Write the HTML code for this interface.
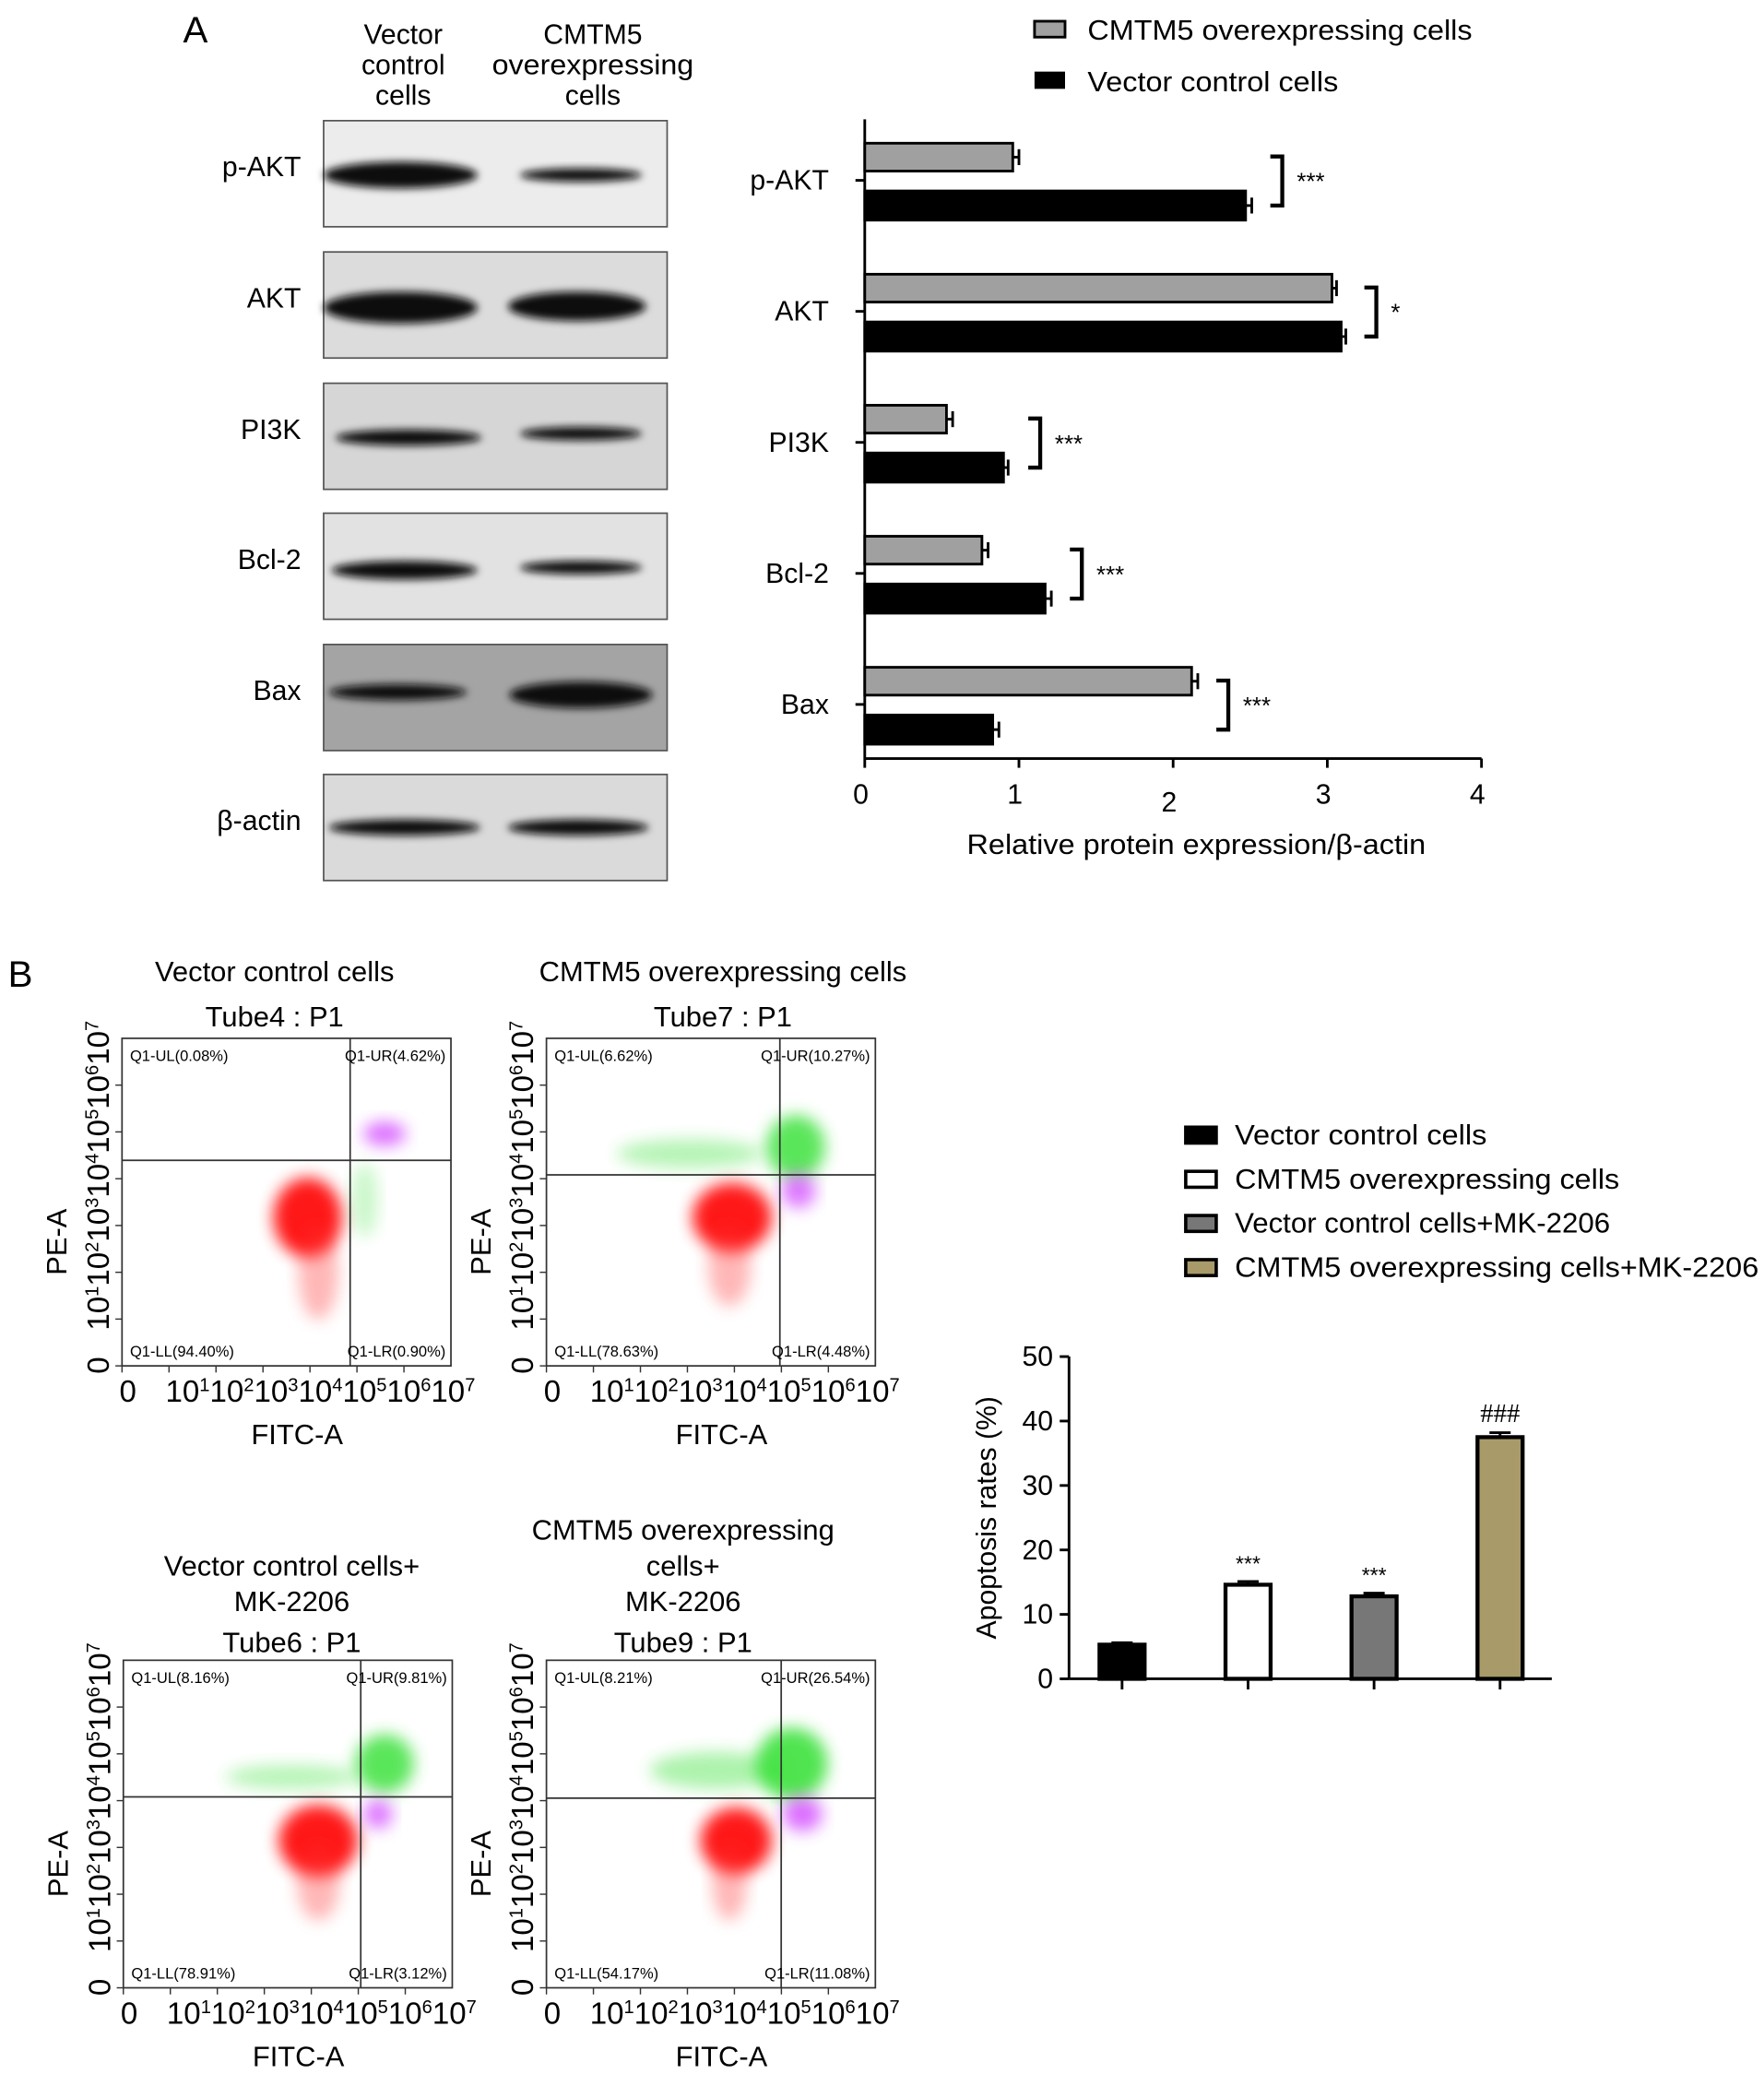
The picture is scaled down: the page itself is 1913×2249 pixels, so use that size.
<!DOCTYPE html>
<html><head><meta charset="utf-8"><style>
html,body{margin:0;padding:0;background:#fff}
svg{display:block;font-family:"Liberation Sans",sans-serif}
</style></head><body>
<svg id="fig" width="1913" height="2249" viewBox="0 0 1330 1564" preserveAspectRatio="none" xmlns="http://www.w3.org/2000/svg">
<defs>
<filter id="blur3" x="-20%" y="-50%" width="140%" height="200%"><feGaussianBlur stdDeviation="3"/></filter>
<filter id="blur6" x="-30%" y="-50%" width="160%" height="200%"><feGaussianBlur stdDeviation="6"/></filter>
</defs>
<text x="138" y="32" font-size="28">A</text>
<g font-size="21" text-anchor="middle">
<text x="304" y="33">Vector</text><text x="304" y="56">control</text><text x="304" y="79">cells</text>
<text x="447" y="33">CMTM5</text><text x="447" y="56" textLength="152" lengthAdjust="spacingAndGlyphs">overexpressing</text><text x="447" y="79">cells</text>
</g>
<g id="blots"></g>
<g id="barA"></g>
<text x="6" y="744" font-size="28">B</text>
<g id="flows"></g>
<g id="barB"></g>
</svg>
<script>
const NS='http://www.w3.org/2000/svg';
function mk(p,t,a,txt){const e=document.createElementNS(NS,t);for(const k in a)e.setAttribute(k,a[k]);if(txt!==undefined)e.textContent=txt;p.appendChild(e);return e;}

// ---------- Western blots ----------
const blotNames=['p-AKT','AKT','PI3K','Bcl-2','Bax','β-actin'];
const blotTops=[91,190,289,387,486,584];
const blotBg=['#ececec','#dcdcdc','#d6d6d6','#e2e2e2','#a4a4a4','#dadada'];
const bands=[[[302,132,58,10],[438,132,46,5]],[[302,232,58,12],[435,231,52,11]],[[308,330,55,6],[438,327,46,5]],[[305,430,55,7],[438,428,46,5]],[[300,522,52,6],[438,524,54,10]],[[305,624,57,6],[436,624,53,6]]];
const blots=document.getElementById('blots');
blotNames.forEach((n,i)=>{
  const g=mk(blots,'g',{});
  
  
  mk(g,'rect',{x:244,y:blotTops[i],width:259,height:80,fill:blotBg[i],stroke:'#555','stroke-width':1.2});
  bands[i].forEach(b=>mk(g,'ellipse',{cx:b[0],cy:b[1],rx:b[2],ry:b[3],fill:'#111',filter:'url(#blur3)'}));
  mk(g,'text',{x:227,y:blotTops[i]+42,'font-size':21,'text-anchor':'end'},n);
});

// ---------- Panel A bar chart ----------
const catsA=['p-AKT','AKT','PI3K','Bcl-2','Bax'];
const cmtmA=[0.96,3.03,0.53,0.76,2.12];
const vecA=[2.47,3.09,0.90,1.17,0.83];
const errCA=[0.04,0.03,0.04,0.04,0.04];
const errVA=[0.04,0.03,0.03,0.04,0.04];
const sigA=['***','*','***','***','***'];
const ticksA=[0,1,2,3,4];
const A={x0:652,x1:1117,max:4,yTop:90,yBot:572};
const xA=v=>A.x0+(A.x1-A.x0)*v/A.max;
const catY=i=>136+i*98.8;
const ga=document.getElementById('barA');
mk(ga,'line',{x1:A.x0,y1:A.yTop,x2:A.x0,y2:A.yBot,stroke:'#000','stroke-width':2});
mk(ga,'line',{x1:A.x0,y1:A.yBot,x2:A.x1,y2:A.yBot,stroke:'#000','stroke-width':2});
ticksA.forEach(t=>{
  mk(ga,'line',{x1:xA(t),y1:A.yBot,x2:xA(t),y2:A.yBot+7,stroke:'#000','stroke-width':2});
  const e=mk(ga,'text',{x:xA(t)-3,y:A.yBot+34+(t===2?6:0),'font-size':21,'text-anchor':'middle'},t);
  
  
});
const xt=mk(ga,'text',{x:902,y:644,'font-size':21,'text-anchor':'middle',textLength:346,lengthAdjust:'spacingAndGlyphs'},'Relative protein expression/β-actin');


catsA.forEach((c,i)=>{
  const cy=catY(i);
  mk(ga,'line',{x1:A.x0-7,y1:cy,x2:A.x0,y2:cy,stroke:'#000','stroke-width':2});
  const lt=mk(ga,'text',{x:A.x0-27,y:cy+7,'font-size':21,'text-anchor':'end'},c);
  
  
  const b1=mk(ga,'rect',{x:A.x0,y:cy-28,width:xA(cmtmA[i])-A.x0,height:21,fill:'#a0a0a0',stroke:'#000','stroke-width':2});
  
  
  const b2=mk(ga,'rect',{x:A.x0,y:cy+8,width:xA(vecA[i])-A.x0,height:22,fill:'#000',stroke:'#000','stroke-width':2});
  
  
  [[cmtmA[i],errCA[i],cy-17.5],[vecA[i],errVA[i],cy+19]].forEach(([v,e,y])=>{
    mk(ga,'line',{x1:xA(v),y1:y,x2:xA(v+e),y2:y,stroke:'#000','stroke-width':2});
    mk(ga,'line',{x1:xA(v+e),y1:y-6,x2:xA(v+e),y2:y+6,stroke:'#000','stroke-width':2});
  });
  const bx=xA(Math.max(cmtmA[i],vecA[i])+Math.max(errCA[i],errVA[i]))+14;
  mk(ga,'path',{d:`M${bx},${cy-18} H${bx+9} V${cy+19} H${bx}`,fill:'none',stroke:'#000','stroke-width':3});
  mk(ga,'text',{x:bx+20,y:cy+7,'font-size':18},sigA[i]);
});
const lg=mk(ga,'g',{});


mk(lg,'rect',{x:780,y:16,width:23,height:12,fill:'#a0a0a0',stroke:'#000','stroke-width':2});
mk(lg,'text',{x:820,y:30,'font-size':21,textLength:290,lengthAdjust:'spacingAndGlyphs'},'CMTM5 overexpressing cells');
mk(lg,'rect',{x:780,y:54,width:23,height:13,fill:'#000'});
mk(lg,'text',{x:820,y:69,'font-size':21,textLength:189,lengthAdjust:'spacingAndGlyphs'},'Vector control cells');

// ---------- Flow plots ----------
const flowDefs=[
 {x:92,y:783,vx:264,hy:875,q:['Q1-UL(0.08%)','Q1-UR(4.62%)','Q1-LL(94.40%)','Q1-LR(0.90%)'],
  titles:['Vector control cells','Tube4 : P1'],ty:[740,774],tc:207,
  clouds:[['#ff0000',232,918,26,30,0.9],['#ff3030',240,960,15,35,0.35],['#d040ff',290,855,16,9,0.75],['#30e030',275,905,10,28,0.25]]},
 {x:412,y:783,vx:588,hy:886,q:['Q1-UL(6.62%)','Q1-UR(10.27%)','Q1-LL(78.63%)','Q1-LR(4.48%)'],
  titles:['CMTM5 overexpressing cells','Tube7 : P1'],ty:[740,774],tc:545,
  clouds:[['#30e030',600,865,22,24,0.8],['#30e030',520,870,55,11,0.35],['#ff0000',552,918,30,26,0.9],['#ff3030',550,955,16,30,0.35],['#d040ff',602,898,13,13,0.7]]},
 {x:93,y:1252,vx:272,hy:1355,q:['Q1-UL(8.16%)','Q1-UR(9.81%)','Q1-LL(78.91%)','Q1-LR(3.12%)'],
  titles:['Vector control cells+','MK-2206','Tube6 : P1'],ty:[1188,1215,1246],tc:220,
  clouds:[['#30e030',290,1330,22,22,0.8],['#30e030',220,1340,50,9,0.35],['#ff0000',240,1388,30,27,0.9],['#ff3030',240,1420,16,28,0.35],['#d040ff',285,1368,11,11,0.7]]},
 {x:412,y:1252,vx:589,hy:1356,q:['Q1-UL(8.21%)','Q1-UR(26.54%)','Q1-LL(54.17%)','Q1-LR(11.08%)'],
  titles:['CMTM5 overexpressing','cells+','MK-2206','Tube9 : P1'],ty:[1161,1188,1215,1246],tc:515,
  clouds:[['#30e030',597,1330,27,27,0.85],['#30e030',540,1335,50,14,0.4],['#ff0000',555,1388,27,25,0.9],['#ff3030',550,1420,13,28,0.35],['#d040ff',605,1368,15,13,0.75]]}
];
const sup='<tspan dx="%D">10</tspan><tspan dy="-8" font-size="14">1</tspan><tspan dy="8">10</tspan><tspan dy="-8" font-size="14">2</tspan><tspan dy="8">10</tspan><tspan dy="-8" font-size="14">3</tspan><tspan dy="8">10</tspan><tspan dy="-8" font-size="14">4</tspan><tspan dy="8">10</tspan><tspan dy="-8" font-size="14">5</tspan><tspan dy="8">10</tspan><tspan dy="-8" font-size="14">6</tspan><tspan dy="8">10</tspan><tspan dy="-8" font-size="14">7</tspan>';
const fl=document.getElementById('flows');
flowDefs.forEach((f,k)=>{
  const g=mk(fl,'g',{});
  
  
  const W=248,H=247;
  f.titles.forEach((t,i)=>mk(g,'text',{x:f.tc,y:f.ty[i],'font-size':21.5,'text-anchor':'middle'},t));
  f.clouds.forEach(c=>mk(g,'ellipse',{cx:c[1],cy:c[2],rx:c[3],ry:c[4],fill:c[0],opacity:c[5],filter:'url(#blur6)'}));
  mk(g,'rect',{x:f.x,y:f.y,width:W,height:H,fill:'none',stroke:'#333','stroke-width':1.2});
  mk(g,'line',{x1:f.vx,y1:f.y,x2:f.vx,y2:f.y+H,stroke:'#333','stroke-width':1.2});
  mk(g,'line',{x1:f.x,y1:f.hy,x2:f.x+W,y2:f.hy,stroke:'#333','stroke-width':1.2});
  mk(g,'text',{x:f.x+6,y:f.y+17,'font-size':11.5},f.q[0]);
  mk(g,'text',{x:f.x+W-4,y:f.y+17,'font-size':11.5,'text-anchor':'end'},f.q[1]);
  mk(g,'text',{x:f.x+6,y:f.y+H-7,'font-size':11.5},f.q[2]);
  mk(g,'text',{x:f.x+W-4,y:f.y+H-7,'font-size':11.5,'text-anchor':'end'},f.q[3]);
  for(let d=0;d<7;d++){const tx=f.x+d*W/7;mk(g,'line',{x1:tx,y1:f.y+H,x2:tx,y2:f.y+H+5,stroke:'#333'});
    const ty=f.y+H-d*H/7;mk(g,'line',{x1:f.x-5,y1:ty,x2:f.x,y2:ty,stroke:'#333'});}
  const xl=mk(g,'text',{x:f.x-2,y:f.y+H+27,'font-size':23});
  xl.innerHTML='0'+sup.replace('%D','22');
  mk(g,'text',{x:f.x+W/2+8,y:f.y+H+59,'font-size':21.5,'text-anchor':'middle'},'FITC-A');
  const yl=mk(g,'text',{'font-size':23,transform:`translate(${f.x-10},${f.y+H+6}) rotate(-90)`});
  yl.innerHTML='0'+sup.replace('%D','20');
  mk(g,'text',{'font-size':21.5,'text-anchor':'middle',transform:`translate(${f.x-42},${f.y+H/2+30}) rotate(-90)`},'PE-A');
});

// ---------- Panel B bar chart ----------
const catsB=['Vector control cells','CMTM5 overexpressing cells','Vector control cells+MK-2206','CMTM5 overexpressing cells+MK-2206'];
const valsB=[5.3,14.6,12.8,37.5];
const errB=[0.3,0.5,0.5,0.7];
const sigB=['','***','***','###'];
const ticksB=[0,10,20,30,40,50];
const fillsB=['#000','#fff','#777','#a99a6a'];
const B={x0:806,x1:1170,y0:1266,y1:1023,max:50};
const yB=v=>B.y0-(B.y0-B.y1)*v/B.max;
const cxB=i=>846+i*95;
const gb=document.getElementById('barB');
mk(gb,'line',{x1:B.x0,y1:B.y1,x2:B.x0,y2:B.y0,stroke:'#000','stroke-width':2});
mk(gb,'line',{x1:B.x0,y1:B.y0,x2:B.x1,y2:B.y0,stroke:'#000','stroke-width':2});
ticksB.forEach(t=>{
  mk(gb,'line',{x1:B.x0-7,y1:yB(t),x2:B.x0,y2:yB(t),stroke:'#000','stroke-width':2});
  const e=mk(gb,'text',{x:B.x0-12,y:yB(t)+7,'font-size':21,'text-anchor':'end'},t);
  
  
});
const yt=mk(gb,'text',{'font-size':21,'text-anchor':'middle',transform:`translate(751,${(B.y0+B.y1)/2}) rotate(-90)`},'Apoptosis rates (%)');


valsB.forEach((v,i)=>{
  const cx=cxB(i);
  mk(gb,'line',{x1:cx,y1:B.y0,x2:cx,y2:B.y0+8,stroke:'#000','stroke-width':2});
  mk(gb,'line',{x1:cx,y1:yB(v),x2:cx,y2:yB(v+errB[i]),stroke:'#000','stroke-width':2});
  mk(gb,'line',{x1:cx-8,y1:yB(v+errB[i]),x2:cx+8,y2:yB(v+errB[i]),stroke:'#000','stroke-width':2});
  const r=mk(gb,'rect',{x:cx-17,y:yB(v),width:34,height:B.y0-yB(v),fill:fillsB[i],stroke:'#000','stroke-width':3});
  
  
  if(sigB[i])mk(gb,'text',{x:cx,y:yB(v+errB[i])-8,'font-size':sigB[i]==='###'?20:16,'text-anchor':'middle','font-family':sigB[i]==='###'?'Liberation Serif':'Liberation Sans'},sigB[i]);
});
const lgb=mk(gb,'g',{});


const lwB=[190,290,283,395];
catsB.forEach((c,i)=>{
  const y=850+i*33.3;
  mk(lgb,'rect',{x:894,y:y,width:23,height:12,fill:fillsB[i],stroke:'#000','stroke-width':2.5});
  mk(lgb,'text',{x:931,y:y+13,'font-size':21,textLength:lwB[i],lengthAdjust:'spacingAndGlyphs'},c);
});
</script>
</body></html>
